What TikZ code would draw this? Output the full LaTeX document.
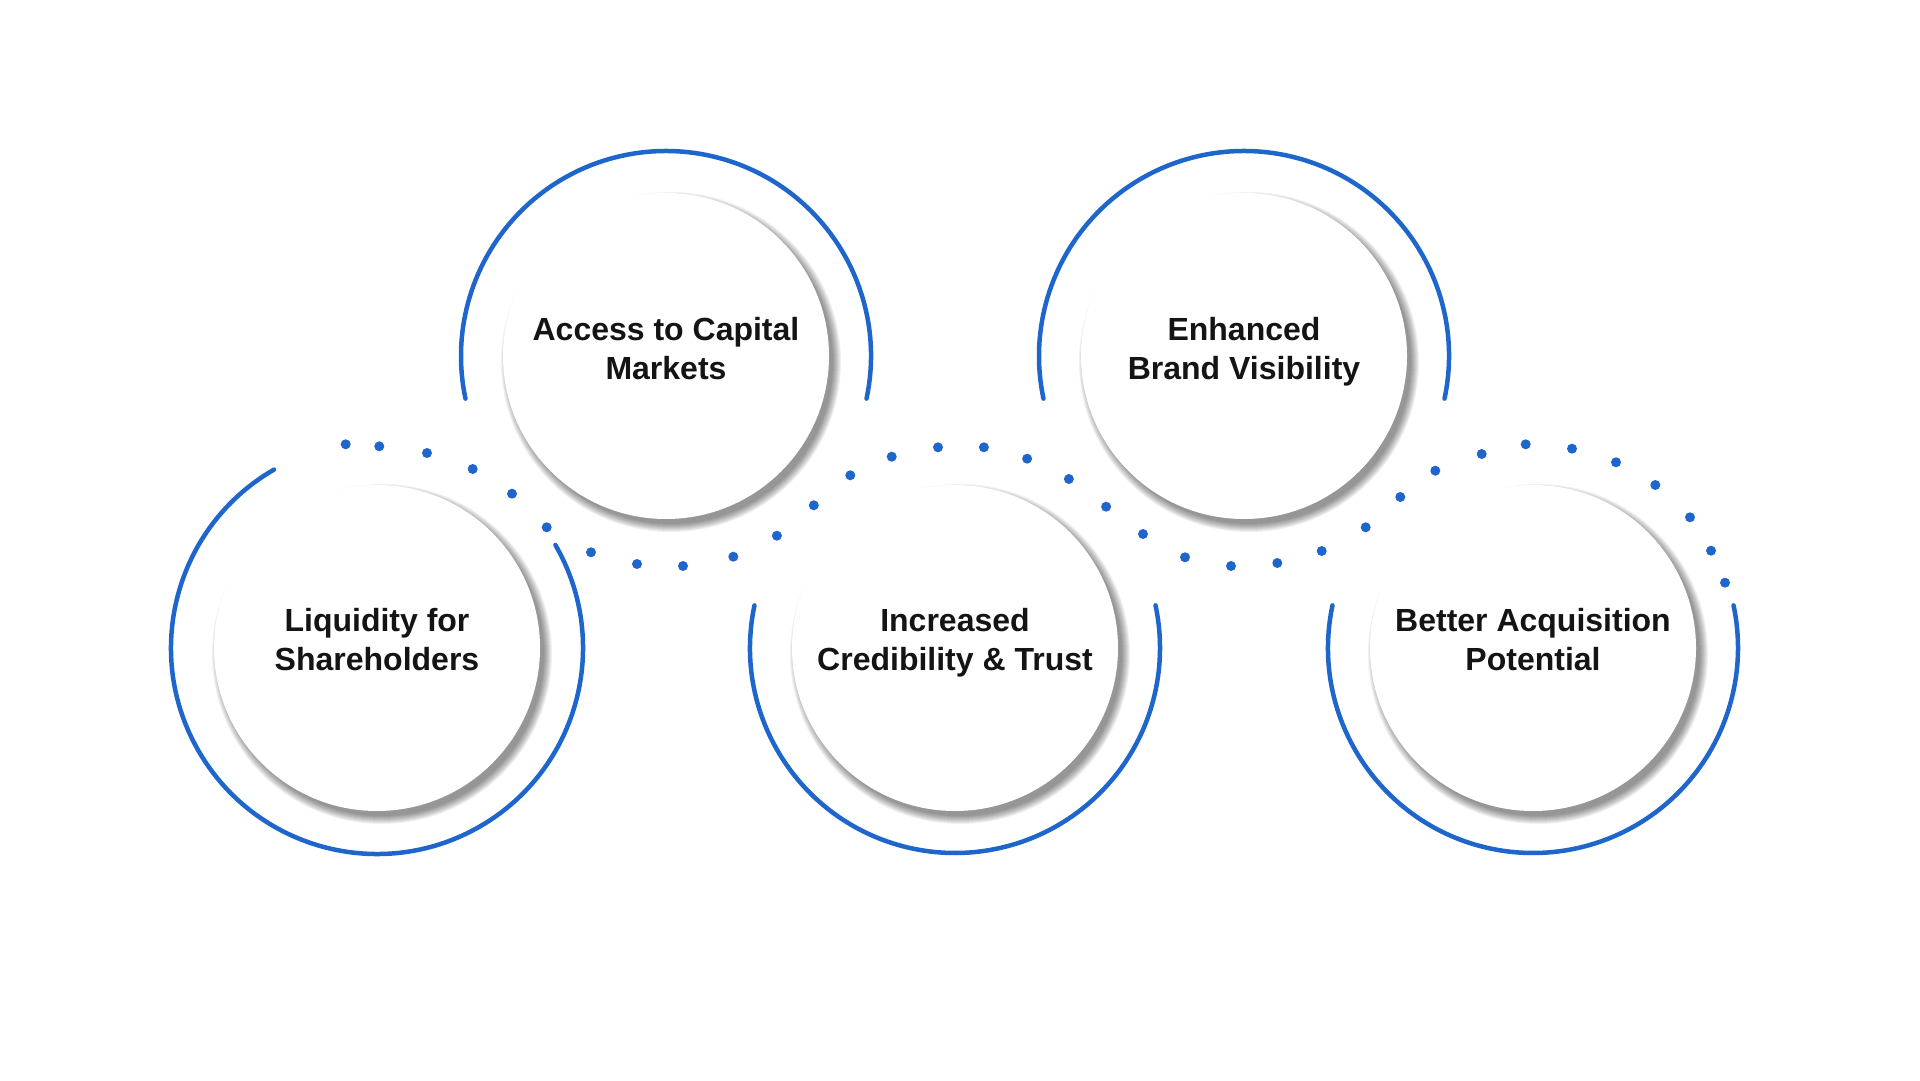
\documentclass[tikz,border=0pt]{standalone}
\usepackage{fontspec}
\setmainfont{Liberation Sans}
\definecolor{accent}{HTML}{1F66CC}
\tikzset{
  ring/.style={draw=accent, line width=4.5pt, line cap=round},
  dotmark/.style={fill=accent, draw=none},
  disc/.style={circle, fill=white, minimum size=326pt, inner sep=0pt},
  shade/.style={fill=black, opacity=0.055},
  caption/.style={font=\bfseries\fontsize{32}{39}\selectfont, align=center, text=black!92, inner sep=0pt},
}
\begin{document}
\begin{tikzpicture}[x=1pt,y=1pt]
\useasboundingbox (0,0) rectangle (1920,1080);
\fill[white] (0,0) rectangle (1920,1080);

\coordinate (c1) at (377,432);
\coordinate (c2) at (666,724);
\coordinate (c3) at (955,432);
\coordinate (c4) at (1244,724);
\coordinate (c5) at (1533,432);

% outer blue rings
\draw[ring] (c1) ++(120:206) arc[start angle=120, end angle=390, radius=206];
\draw[ring] (c2) ++(-12:205) arc[start angle=-12, end angle=192, radius=205];
\draw[ring] (c3) ++(168:205) arc[start angle=168, end angle=372, radius=205];
\draw[ring] (c4) ++(-12:205) arc[start angle=-12, end angle=192, radius=205];
\draw[ring] (c5) ++(168:205) arc[start angle=168, end angle=372, radius=205];

% soft shadows (bottom-right)
\foreach \c in {c1,c2,c3,c4,c5}{
  \foreach \d in {0,...,8}{
    \pgfmathsetmacro{\rr}{162+\d}
    \fill[shade] ([shift={(5,-6)}]\c) circle[radius=\rr];
  }
}

% white discs
\node[disc] (d1) at (c1) {};
\node[disc] (d2) at (c2) {};
\node[disc] (d3) at (c3) {};
\node[disc] (d4) at (c4) {};
\node[disc] (d5) at (c5) {};

% labels
\node[caption] (t1) at ([yshift=8]c1) {Liquidity for\\Shareholders};
\node[caption] (t2) at ([yshift=7]c2) {Access to Capital\\Markets};
\node[caption] (t3) at ([yshift=5]c3) {Increased\\Credibility \& Trust};
\node[caption] (t4) at ([yshift=4]c4) {Enhanced\\Brand Visibility};
\node[caption] (t5) at ([yshift=8]c5) {Better Acquisition\\Potential};

% dotted wave
\foreach \x/\y in {345.7/444.3,379.3/446.3,427/453,472.7/469,512/493.7,546.7/527.3,
  591/552.3,637/564,683/566,733.3/556.7,776.9/535.7,813.8/505.3,850.3/475.3,
  891.7/456.7,938/447.3,983.9/447.3,1027.1/458.7,1068.9/479,1106.1/506.7,
  1143/534,1185/557.3,1231/566,1277.3/563,1321.7/551,1365.7/527.3,1400.3/497,
  1435.3/470.7,1481.7/454,1525.7/444.3,1572/448.7,1616/462.3,1655.3/485,
  1690/517.3,1711/550.7,1725/582.7}{
  \fill[dotmark] (\x,{1080-\y}) circle[radius=5];
}
\end{tikzpicture}
\end{document}
